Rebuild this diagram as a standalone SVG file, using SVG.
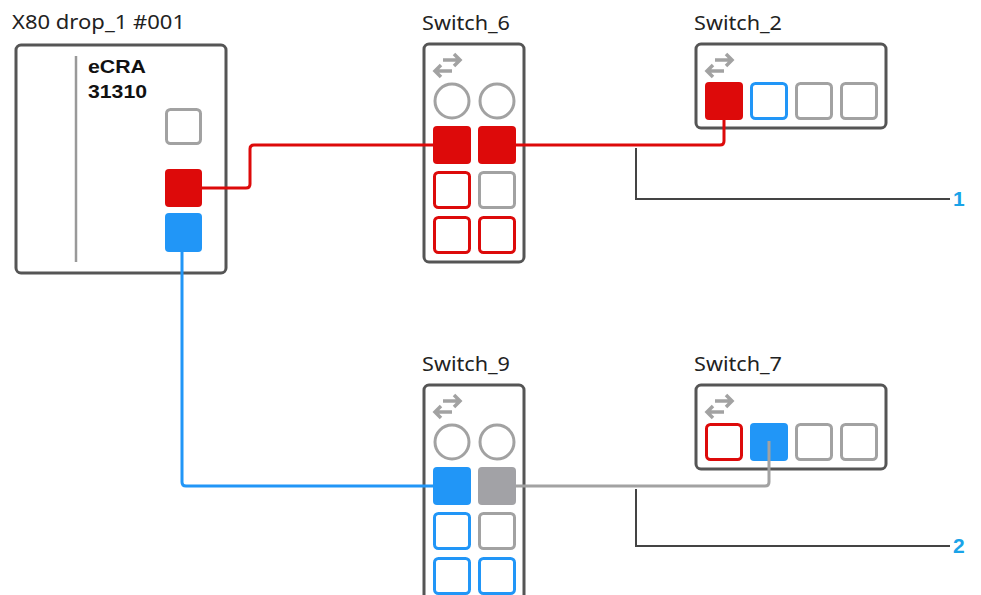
<svg xmlns="http://www.w3.org/2000/svg" width="981" height="595" viewBox="0 0 981 595">
<style>
.title{font-family:"Noto Sans","Open Sans","Liberation Sans",sans-serif;font-size:19.5px;fill:#222}
.mod{font-family:"Liberation Sans",Arial,sans-serif;font-size:18px;font-weight:bold;fill:#111}
.num{font-family:"Liberation Sans",Arial,sans-serif;font-size:21px;font-weight:bold;fill:#1aa3e8}
.box{fill:#fff;stroke:#555;stroke-width:3}
.rf{fill:#dd0a0a}
.bf{fill:#2196f7}
.gf{fill:#a2a2a6}
.ro{fill:#fff;stroke:#dd0a0a;stroke-width:3}
.bo{fill:#fff;stroke:#2196f7;stroke-width:3}
.go{fill:#fff;stroke:#a2a2a2;stroke-width:3}
.circ{fill:#fff;stroke:#a2a2a2;stroke-width:3}
.icon{fill:none;stroke:#a2a2a2;stroke-width:3.5}
.wire{fill:none;stroke-width:3;stroke-linejoin:round}
.call{fill:none;stroke:#444;stroke-width:2}
</style>
<defs>
<g id="xicon">
<path class="icon" d="M10,12 H27 M21,6 L27,12 L21,18"/>
<path class="icon" d="M19,23 H2 M8,17 L2,23 L8,29"/>
</g>
</defs>
<rect width="981" height="595" fill="#fff"/>

<g id="x80">
<text class="title" x="12" y="29" textLength="173" lengthAdjust="spacingAndGlyphs">X80 drop_1 #001</text>
<rect class="box" x="16" y="45" width="210" height="228" rx="5"/>
<line x1="76" y1="56" x2="76" y2="262" stroke="#999" stroke-width="2.5"/>
<text class="mod" x="88" y="73" textLength="58" lengthAdjust="spacingAndGlyphs">eCRA</text>
<text class="mod" x="88" y="98" textLength="59" lengthAdjust="spacingAndGlyphs">31310</text>
<rect class="go" x="166.5" y="109.5" width="34" height="34" rx="4"/>
<rect class="rf" x="165" y="169" width="37" height="38" rx="4"/>
<rect class="bf" x="165" y="213" width="37" height="39" rx="4"/>
</g>

<g id="switch6">
<text class="title" x="422" y="30" textLength="88" lengthAdjust="spacingAndGlyphs">Switch_6</text>
<rect class="box" x="424" y="44" width="100" height="218" rx="5"/>
<use href="#xicon" x="433" y="48"/>
<circle class="circ" cx="452" cy="101" r="17"/>
<circle class="circ" cx="497" cy="101" r="17"/>
<rect class="rf" x="433" y="126" width="38" height="38" rx="4"/>
<rect class="rf" x="478" y="126" width="38" height="38" rx="4"/>
<rect class="ro" x="434.5" y="172.5" width="35" height="35" rx="4"/>
<rect class="go" x="479.5" y="172.5" width="35" height="35" rx="4"/>
<rect class="ro" x="434.5" y="217.5" width="35" height="35" rx="4"/>
<rect class="ro" x="479.5" y="217.5" width="35" height="35" rx="4"/>
</g>

<g id="switch2">
<text class="title" x="694" y="30" textLength="88" lengthAdjust="spacingAndGlyphs">Switch_2</text>
<rect class="box" x="696" y="44" width="190" height="84" rx="5"/>
<use href="#xicon" x="705" y="48"/>
<rect class="rf" x="705" y="82" width="38" height="38" rx="4"/>
<rect class="bo" x="751.5" y="83.5" width="35" height="35" rx="4"/>
<rect class="go" x="796.5" y="83.5" width="35" height="35" rx="4"/>
<rect class="go" x="841.5" y="83.5" width="35" height="35" rx="4"/>
</g>

<g id="switch9">
<text class="title" x="422" y="371" textLength="88" lengthAdjust="spacingAndGlyphs">Switch_9</text>
<rect class="box" x="424" y="385" width="100" height="218" rx="5"/>
<use href="#xicon" x="433" y="389"/>
<circle class="circ" cx="452" cy="442" r="17"/>
<circle class="circ" cx="497" cy="442" r="17"/>
<rect class="bf" x="433" y="467" width="38" height="38" rx="4"/>
<rect class="gf" x="478" y="467" width="38" height="38" rx="4"/>
<rect class="bo" x="434.5" y="513.5" width="35" height="35" rx="4"/>
<rect class="go" x="479.5" y="513.5" width="35" height="35" rx="4"/>
<rect class="bo" x="434.5" y="558.5" width="35" height="35" rx="4"/>
<rect class="bo" x="479.5" y="558.5" width="35" height="35" rx="4"/>
</g>

<g id="switch7">
<text class="title" x="694" y="371" textLength="88" lengthAdjust="spacingAndGlyphs">Switch_7</text>
<rect class="box" x="696" y="385" width="190" height="84" rx="5"/>
<use href="#xicon" x="705" y="389"/>
<rect class="ro" x="706.5" y="424.5" width="35" height="35" rx="4"/>
<rect class="bf" x="750" y="423" width="38" height="38" rx="4"/>
<rect class="go" x="796.5" y="424.5" width="35" height="35" rx="4"/>
<rect class="go" x="841.5" y="424.5" width="35" height="35" rx="4"/>
</g>

<g id="connectors">
<path class="wire" stroke="#dd0a0a" d="M202,188 H246 Q250,188 250,184 V149 Q250,145 254,145 H433"/>
<path class="wire" stroke="#dd0a0a" d="M516,145 H720 Q724,145 724,141 V119"/>
<path class="wire" stroke="#2196f7" d="M182,252 V482 Q182,486 186,486 H433"/>
<path class="wire" stroke="#a2a2a2" d="M516,486 H765 Q769,486 769,482 V441"/>
</g>

<g id="callouts">
<path class="call" d="M636,148 V199 H950"/>
<text class="num" x="953" y="206">1</text>
<path class="call" d="M636,489 V546 H950"/>
<text class="num" x="953" y="553">2</text>
</g>
</svg>
